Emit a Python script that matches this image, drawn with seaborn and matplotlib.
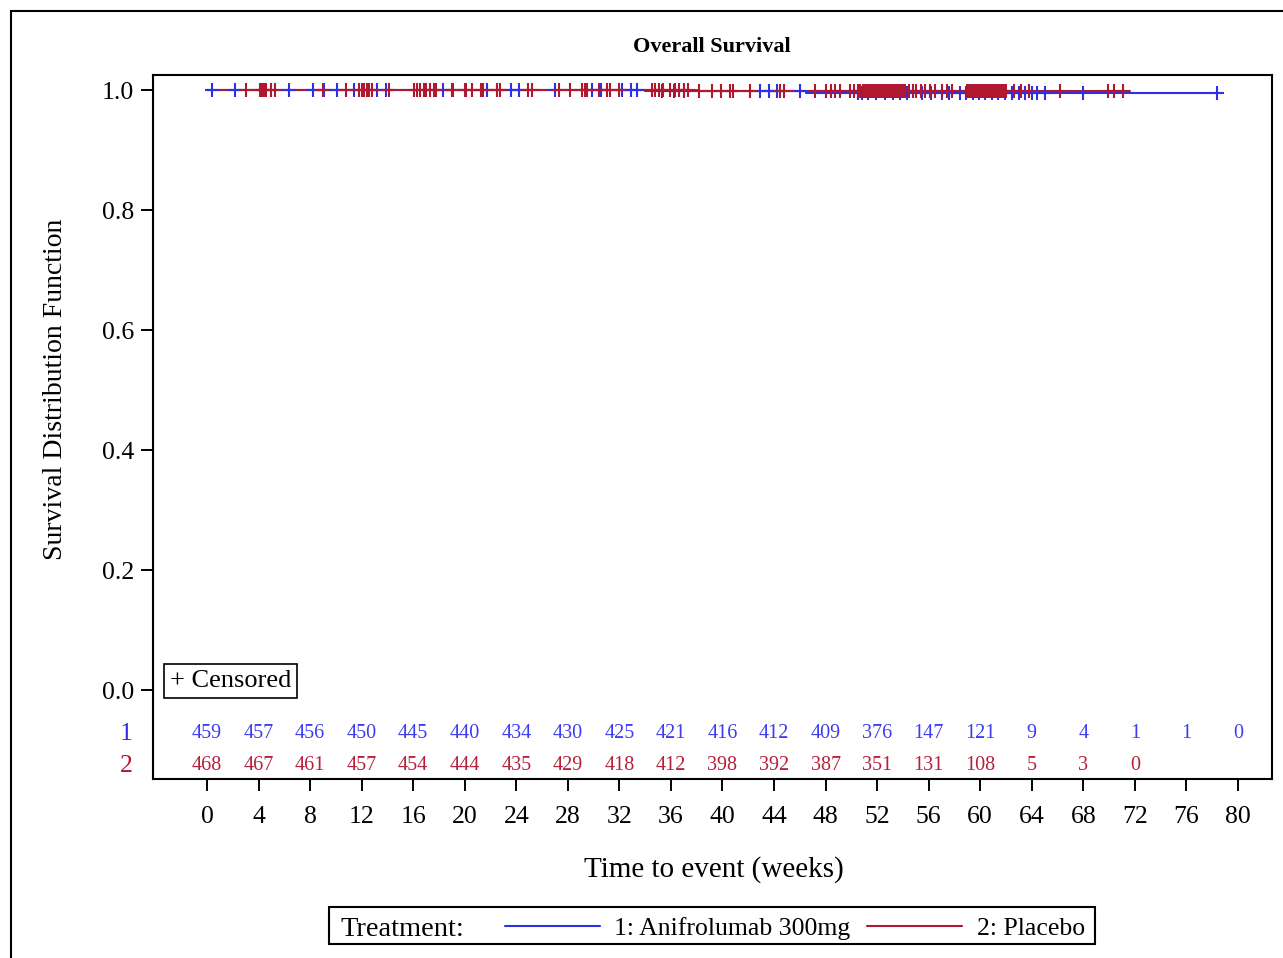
import numpy as np
import pandas as pd
import matplotlib
matplotlib.use("Agg")
import matplotlib.pyplot as plt
import seaborn as sns
from matplotlib.patches import Rectangle
from matplotlib.lines import Line2D

# ---------------- data ----------------
groups = ["1: Anifrolumab 300mg", "2: Placebo"]
colors = {"1: Anifrolumab 300mg": "#2F2FE6", "2: Placebo": "#B0182F"}
risk_colors = {"1: Anifrolumab 300mg": "#3C3CF0", "2: Placebo": "#B5203A"}

# Kaplan-Meier step points (time in weeks, survival)
ani_step_t = [0.0, 34.0, 46.5, 78.4]
ani_step_s = [1.0, 0.99776, 0.99530, 0.99530]
pla_step_t = [0.0, 38.0, 71.6]
pla_step_s = [1.0, 0.99785, 0.99785]

# censoring times (weeks)
ani_cens = [0.4, 2.2, 6.4, 8.2, 9.1, 10.1, 11.4, 13.2, 13.9, 18.3, 21.7, 23.6, 24.2,
            27.0, 29.9, 30.6, 32.2, 32.9, 33.4, 35.3, 36.2, 37.0, 42.9, 43.6, 44.2,
            46.0, 50.5, 50.8, 51.3, 51.9, 52.6, 53.2, 53.8, 54.3, 55.5, 56.2, 57.0,
            57.6, 58.4, 58.9, 59.4, 59.9, 60.4, 60.9, 61.4, 61.9, 62.5, 63.0, 63.5,
            64.0, 64.4, 65.0, 68.0, 78.4]
pla_cens = [3.0, 4.1, 4.2, 4.35, 4.5, 4.6, 5.0, 5.3, 9.0, 10.8, 11.8, 12.0, 12.2,
            12.4, 12.6, 12.8, 14.1, 16.1, 16.3, 16.5, 16.8, 17.0, 17.3, 17.6, 17.8,
            19.0, 19.1, 20.0, 20.1, 20.6, 21.3, 21.4, 22.5, 22.7, 24.9, 25.2, 27.3,
            28.2, 29.1, 29.3, 29.5, 30.4, 31.0, 31.3, 32.0, 34.5, 34.8, 35.1, 35.4,
            35.9, 36.3, 36.6, 37.0, 37.3, 38.2, 39.2, 39.9, 40.6, 40.8, 42.1, 44.5,
            44.8, 47.2, 48.0, 48.4, 48.7, 49.1, 49.9, 50.2, 50.5, 50.7,
            50.9, 51.05, 51.2, 51.35, 51.5, 51.65, 51.8, 51.95, 52.1, 52.25, 52.4,
            52.55, 52.7, 52.85, 53.0, 53.15, 53.3, 53.45, 53.6, 53.75, 53.9, 54.05,
            54.2, 54.5, 54.8, 55.0, 55.4, 55.7, 56.1, 56.5, 57.0, 57.4, 57.8,
            59.0, 59.15, 59.3, 59.45, 59.6, 59.75, 59.9, 60.05, 60.2, 60.35, 60.5,
            60.65, 60.8, 60.95, 61.1, 61.25, 61.4, 61.55, 61.7, 61.85, 62.0,
            62.6, 63.2, 63.8, 66.2, 69.9, 70.4, 71.1]

# numbers at risk
risk_times_ani = [0, 4, 8, 12, 16, 20, 24, 28, 32, 36, 40, 44, 48, 52, 56, 60, 64, 68, 72, 76, 80]
risk_ani = [459, 457, 456, 450, 445, 440, 434, 430, 425, 421, 416, 412, 409, 376, 147, 121, 9, 4, 1, 1, 0]
risk_times_pla = [0, 4, 8, 12, 16, 20, 24, 28, 32, 36, 40, 44, 48, 52, 56, 60, 64, 68, 72]
risk_pla = [468, 467, 461, 457, 454, 444, 435, 429, 418, 412, 398, 392, 387, 351, 131, 108, 5, 3, 0]

x_ticks = list(range(0, 81, 4))
y_ticks = [0.0, 0.2, 0.4, 0.6, 0.8, 1.0]

# ---------------- build frames ----------------
steps = pd.concat([
    pd.DataFrame({"time": ani_step_t, "surv": ani_step_s, "group": groups[0]}),
    pd.DataFrame({"time": pla_step_t, "surv": pla_step_s, "group": groups[1]}),
], ignore_index=True)


def surv_at(t_list, st, ss):
    st = np.asarray(st); ss = np.asarray(ss)
    idx = np.searchsorted(st, np.asarray(t_list), side="right") - 1
    return ss[np.clip(idx, 0, len(ss) - 1)]


cens_ani = pd.DataFrame({"time": ani_cens, "surv": surv_at(ani_cens, ani_step_t, ani_step_s), "group": groups[0]})
cens_pla = pd.DataFrame({"time": pla_cens, "surv": surv_at(pla_cens, pla_step_t, pla_step_s), "group": groups[1]})

# ---------------- plot ----------------
sns.set_style("ticks")
plt.rcParams["font.family"] = ["Liberation Serif", "DejaVu Serif"]
plt.rcParams["text.color"] = "black"
plt.rcParams["axes.labelcolor"] = "black"
plt.rcParams["xtick.color"] = "black"
plt.rcParams["ytick.color"] = "black"

W, H = 1283, 958
fig = plt.figure(figsize=(W / 100, H / 100), dpi=100)
L, R, T, B = 153, 1272, 75, 779
ax = fig.add_axes([L / W, 1 - B / H, (R - L) / W, (B - T) / H])

sns.lineplot(data=steps, x="time", y="surv", hue="group", palette=colors,
             drawstyle="steps-post", estimator=None, sort=False, legend=False,
             linewidth=1.5, ax=ax)
sns.scatterplot(data=cens_ani, x="time", y="surv", color=colors[groups[0]],
                marker="+", s=110, linewidth=1.5, legend=False, ax=ax, zorder=3)
sns.scatterplot(data=cens_pla, x="time", y="surv", color=colors[groups[1]],
                marker="+", s=110, linewidth=1.5, legend=False, ax=ax, zorder=4)

ax.set_xlim(-4.19, 82.64)
ax.set_ylim(-0.1483, 1.025)
ax.set_xticks(x_ticks)
ax.set_xticklabels([str(v) for v in x_ticks])
ax.set_yticks(y_ticks)
ax.set_yticklabels([f"{v:.1f}" for v in y_ticks])
ax.tick_params(axis="both", direction="out", length=8.6, width=1.4,
               labelsize=18.5, color="black", labelcolor="black")
ax.tick_params(axis="x", pad=11)
ax.tick_params(axis="y", pad=5)
for sp in ax.spines.values():
    sp.set_visible(True)
    sp.set_linewidth(1.5)
    sp.set_color("black")

ax.set_xlabel("Time to event (weeks)", fontsize=21)
ax.xaxis.set_label_coords(0.501, -0.11)
ax.set_ylabel("Survival Distribution Function", fontsize=20)
ax.yaxis.set_label_coords(-0.076, 0.554)

# at-risk table
row_y = {groups[0]: -0.0733, groups[1]: -0.1262}
for t, n in zip(risk_times_ani, risk_ani):
    ax.text(t, row_y[groups[0]], str(n), ha="center", va="center",
            fontsize=14.5, color=risk_colors[groups[0]])
for t, n in zip(risk_times_pla, risk_pla):
    ax.text(t, row_y[groups[1]], str(n), ha="center", va="center",
            fontsize=14.5, color=risk_colors[groups[1]])
ax.text(-6.29, row_y[groups[0]], "1", ha="center", va="center", fontsize=18.5,
        color=colors[groups[0]], clip_on=False)
ax.text(-6.29, row_y[groups[1]], "2", ha="center", va="center", fontsize=18.5,
        color=colors[groups[1]], clip_on=False)

# censored key
ax.text((170 - L) / (R - L), (B - 681) / (B - T), "+ Censored", transform=ax.transAxes,
        ha="left", va="center", fontsize=19,
        bbox=dict(boxstyle="square,pad=0.22", fc="white", ec="black", lw=1.2))

# title
fig.text(712 / W, 1 - 47 / H, "Overall Survival", ha="center", va="center",
         fontsize=16, fontweight="bold")

# bottom legend
fig.patches.append(Rectangle((329 / W, 1 - 944 / H), (1095 - 329) / W, (944 - 907) / H,
                             transform=fig.transFigure, fill=False, ec="black", lw=1.5))
ly = 1 - 929 / H
fig.text(340 / W, ly, "Treatment:", ha="left", va="center", fontsize=20.5)
fig.lines.append(Line2D([505 / W, 600 / W], [1 - 926 / H, 1 - 926 / H], transform=fig.transFigure,
                        color=colors[groups[0]], lw=1.5))
fig.text(614 / W, ly, groups[0], ha="left", va="center", fontsize=18.5)
fig.lines.append(Line2D([867 / W, 962 / W], [1 - 926 / H, 1 - 926 / H], transform=fig.transFigure,
                        color=colors[groups[1]], lw=1.5))
fig.text(977 / W, ly, groups[1], ha="left", va="center", fontsize=18.5)

# outer frame
fig.patches.append(Rectangle((11 / W, -0.05), 1.1, 1 - 11 / H + 0.05,
                             transform=fig.transFigure, fill=False, ec="black", lw=1.5))

fig.savefig("out.png", dpi=100)
